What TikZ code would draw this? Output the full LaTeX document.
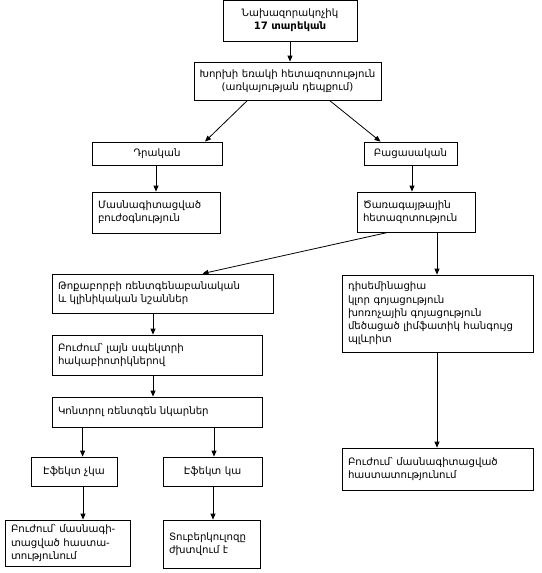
\documentclass[tikz,border=0pt]{standalone}
\usepackage{fontspec}
\setmainfont{DejaVu Sans}
\usetikzlibrary{arrows.meta}
\begin{document}
\begin{tikzpicture}[x=1pt,y=-1pt,
  box/.style={draw,line width=0.8pt,rectangle,inner xsep=6pt,inner ysep=0pt,
    font=\fontsize{10.2}{13.3}\selectfont},
  arr/.style={draw,line width=0.8pt,-{Triangle[length=6pt,width=5pt]}}]
\useasboundingbox (0,0) rectangle (541,573);
% boxes
\node[box,align=center,text width=122pt,minimum height=41pt] (top) at (290,20.5)
  {Նախազորակոչիկ\\\textbf{17 տարեկան}};
\node[box,align=center,inner xsep=2pt,text width=183pt,minimum height=38pt] (sput) at (287.5,81)
  {Խորխի եռակի հետազոտություն\\(առկայության դեպքում)};
\node[box,align=center,text width=118pt,minimum height=23pt] (pos) at (157,153.5) {Դրական};
\node[box,align=center,text width=81pt,minimum height=23pt] (neg) at (410.5,153.5) {Բացասական};
\node[box,align=left,text width=116pt,minimum height=41pt] (spec) at (156,212.5)
  {Մասնագիտացված\\բուժօգնություն};
\node[box,align=left,text width=106pt,minimum height=40pt] (rad) at (416,212)
  {Ծառագայթային\\հետազոտություն};
\node[box,align=left,text width=209pt,minimum height=39pt] (pneu) at (162.5,293.5)
  {Թոքաբորբի ռենտգենաբանական\\և կլինիկական նշաններ};
\node[box,align=left,text width=179pt,minimum height=77pt] (list) at (437.5,313.5)
  {դիսեմինացիա\\կլոր գոյացություն\\խոռոչային գոյացություն\\մեծացած լիմֆատիկ հանգույց\\պլևրիտ};
\node[box,align=left,text width=198pt,minimum height=40pt] (treat) at (157,355)
  {Բուժում՝ լայն սպեկտրի\\հակաբիոտիկներով};
\node[box,align=left,text width=198pt,minimum height=30pt] (ctrl) at (157,412)
  {Կոնտրոլ ռենտգեն նկարներ};
\node[box,align=center,text width=74pt,minimum height=29pt] (noeff) at (74,471.5) {Էֆեկտ չկա};
\node[box,align=center,text width=87pt,minimum height=29pt] (eff) at (212.5,471.5) {Էֆեկտ կա};
\node[box,align=left,text width=113pt,minimum height=46pt] (spec2) at (67.5,543)
  {Բուժում՝ մասնագի-\\տացված հաստա-\\տությունում};
\node[box,align=left,text width=85pt,minimum height=48pt] (tbneg) at (211.5,544)
  {Տուբերկուլոզը\\ժխտվում է};
\node[box,align=left,text width=179pt,minimum height=42pt] (spec3) at (437.5,469)
  {Բուժում՝ մասնագիտացված\\հաստատությունում};
% connectors
\draw[arr] (top.south) -- (top.south |- sput.north);
\draw[arr] ([xshift=-40pt]sput.south) -- ([xshift=48pt]pos.north);
\draw[arr] ([xshift=42pt]sput.south) -- ([xshift=-30pt]neg.north);
\draw[arr] ([xshift=-1pt]pos.south) -- ([xshift=-1pt]pos.south |- spec.north);
\draw[arr] ([xshift=1.5pt]neg.south) -- ([xshift=1.5pt]neg.south |- rad.north);
\draw[arr] ([xshift=-28pt]rad.south) -- ([xshift=40pt]pneu.north);
\draw[arr] ([xshift=21pt]rad.south) -- ([xshift=21pt]rad.south |- list.north);
\draw[arr] ([xshift=-9.5pt]pneu.south) -- ([xshift=-9.5pt]pneu.south |- treat.north);
\draw[arr] ([xshift=-4pt]treat.south) -- ([xshift=-4pt]treat.south |- ctrl.north);
\draw[arr] ([xshift=31pt]ctrl.south west) -- ([xshift=31pt]ctrl.south west |- noeff.north);
\draw[arr] ([xshift=57pt]ctrl.south) -- ([xshift=57pt]ctrl.south |- eff.north);
\draw[arr] ([xshift=9pt]noeff.south) -- ([xshift=9pt]noeff.south |- spec2.north);
\draw[arr] ([xshift=0.5pt]eff.south) -- ([xshift=0.5pt]eff.south |- tbneg.north);
\draw[arr] ([xshift=-0.5pt]list.south) -- ([xshift=-0.5pt]list.south |- spec3.north);
\end{tikzpicture}
\end{document}
